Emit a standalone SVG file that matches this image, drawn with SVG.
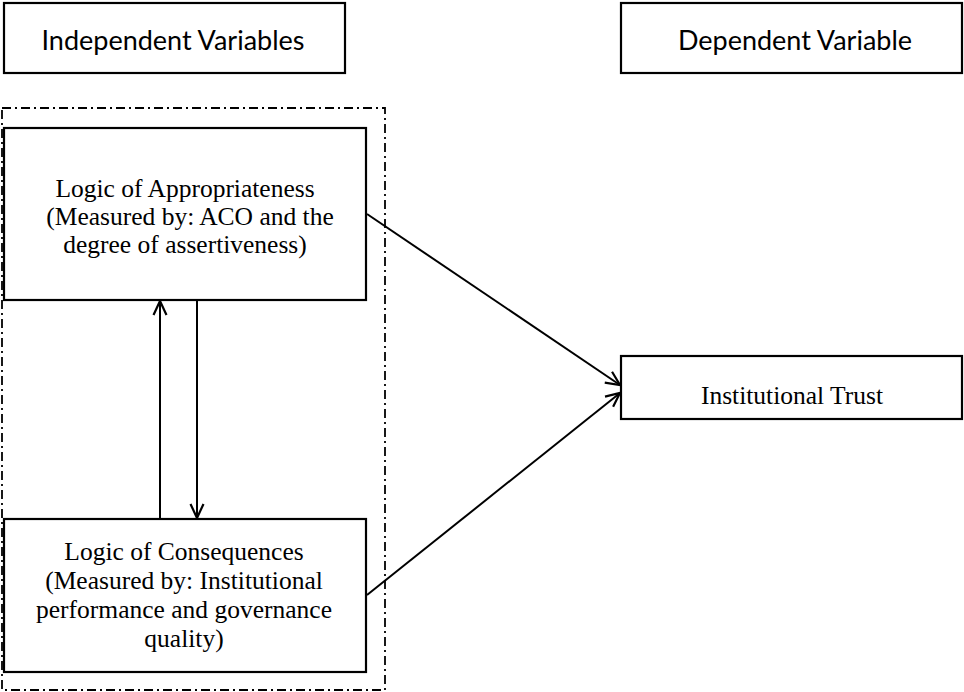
<svg xmlns="http://www.w3.org/2000/svg" width="964" height="692" viewBox="0 0 964 692">
<defs>
<style>
.box{fill:#fff;stroke:#000;stroke-width:2.2}
.hdr{font-family:Lato,"Liberation Sans",sans-serif;font-size:27px;fill:#000;text-anchor:middle}
.t{font-family:"Liberation Serif","Times New Roman",serif;font-size:25.5px;fill:#000;text-anchor:middle}
.ln{stroke:#000;stroke-width:2;fill:none}
.grp{fill:none;stroke:#000;stroke-width:1.8;stroke-dasharray:9 4 2 4}
</style>
<marker id="ah" viewBox="0 0 16 16" refX="15" refY="8" markerWidth="16" markerHeight="16" markerUnits="userSpaceOnUse" orient="auto">
<path d="M1,1.5 L15,8 L1,14.5" fill="none" stroke="#000" stroke-width="2.2"/>
</marker>
</defs>
<rect width="964" height="692" fill="#fff"/>
<rect class="grp" x="2" y="108" width="383" height="582"/>
<g id="hdr-independent">
<rect class="box" x="4" y="3" width="341" height="70"/>
<text class="hdr" x="173" y="50">Independent Variables</text>
</g>
<g id="hdr-dependent">
<rect class="box" x="621" y="3" width="341" height="70"/>
<text class="hdr" x="795" y="50">Dependent Variable</text>
</g>
<g id="appropriateness">
<rect class="box" x="4" y="128" width="362" height="172"/>
<text class="t" x="185" y="197">Logic of Appropriateness</text>
<text class="t" x="190" y="225">(Measured by: ACO and the</text>
<text class="t" x="185" y="253">degree of assertiveness)</text>
</g>
<g id="consequences">
<rect class="box" x="4" y="519" width="362" height="153"/>
<text class="t" x="184" y="560">Logic of Consequences</text>
<text class="t" x="184" y="589">(Measured by: Institutional</text>
<text class="t" x="184" y="618">performance and governance</text>
<text class="t" x="184" y="647">quality)</text>
</g>
<g id="trust">
<rect class="box" x="621" y="356" width="341" height="63"/>
<text class="t" x="792" y="404">Institutional Trust</text>
</g>
<g id="connectors">
<line class="ln" x1="160" y1="519" x2="160" y2="301" marker-end="url(#ah)"/>
<line class="ln" x1="197" y1="300" x2="197" y2="518" marker-end="url(#ah)"/>
<line class="ln" x1="367" y1="214" x2="620" y2="385" marker-end="url(#ah)"/>
<line class="ln" x1="367" y1="595" x2="620" y2="393" marker-end="url(#ah)"/>
</g>
</svg>
